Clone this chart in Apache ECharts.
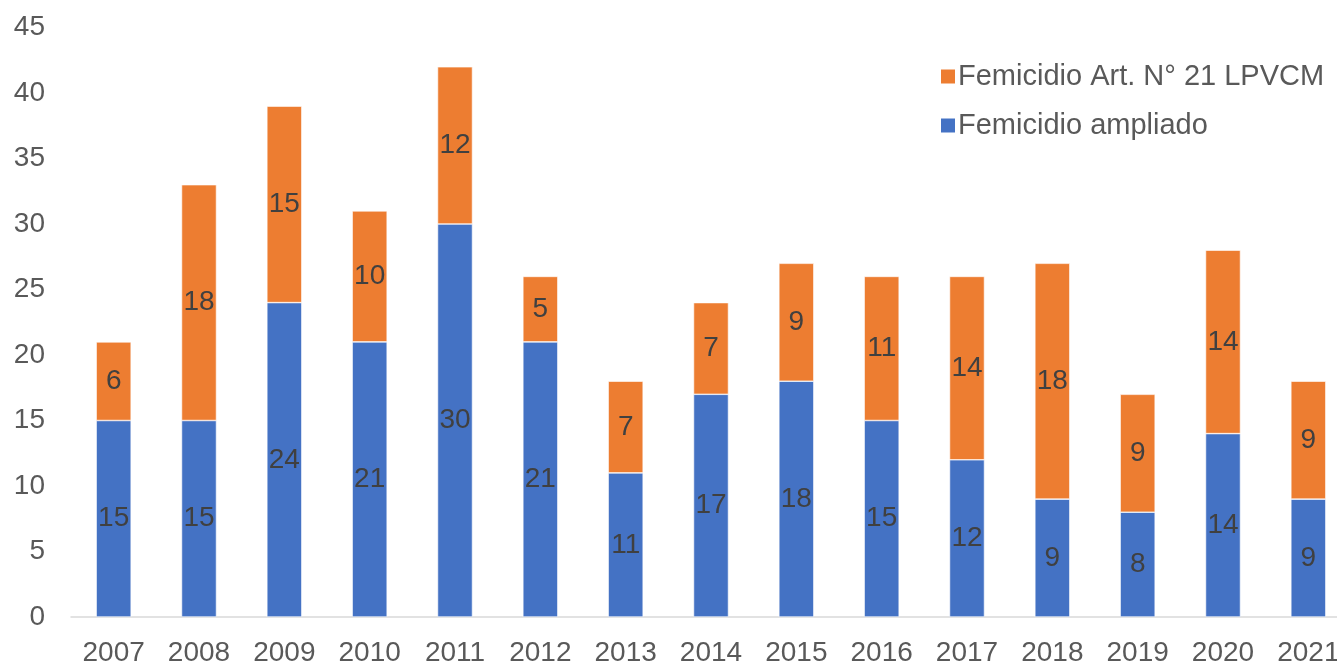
<!DOCTYPE html>
<html>
<head>
<meta charset="utf-8">
<script src="https://cdn.jsdelivr.net/npm/echarts@6/dist/echarts.min.js"></script>
<style>
  html, body { margin: 0; padding: 0; background: #fff; }
  #chart { width: 1337px; height: 664px; }
</style>
</head>
<body>
<div id="chart"></div>
<script>
var years = ["2007", "2008", "2009", "2010", "2011", "2012", "2013", "2014",
  "2015", "2016", "2017", "2018", "2019", "2020", "2021"];
var ampliado = [15, 15, 24, 21, 30, 21, 11, 17, 18, 15, 12, 9, 8, 14, 9];
var art21 = [6, 18, 15, 10, 12, 5, 7, 7, 9, 11, 14, 18, 9, 14, 9];

var nameAmpliado = "Femicidio ampliado";
var nameArt21 = "Femicidio Art. N° 21 LPVCM";

var font = "Liberation Sans, Arial, sans-serif";

var barLabel = {
  show: true,
  position: "inside",
  color: "#404040",
  fontSize: 28,
  fontFamily: font
};

var option = {
  animation: false,
  grid: {
    left: 71,
    top: 27.5,
    width: 1280,
    height: 589.5,
    outerBoundsMode: "none",
    containLabel: false
  },
  legend: {
    data: [nameArt21, nameAmpliado],
    orient: "vertical",
    left: 934,
    top: 57,
    itemWidth: 16,
    itemHeight: 16,
    itemGap: 20,
    icon: "rect",
    textStyle: {
      color: "#595959",
      fontSize: 29,
      fontFamily: font,
      padding: [0, 0, 0, -3]
    }
  },
  xAxis: {
    type: "category",
    data: years,
    axisLine: { lineStyle: { color: "#d9d9d9", width: 1.5 } },
    axisTick: { show: false },
    axisLabel: {
      color: "#595959",
      fontSize: 28,
      fontFamily: font,
      margin: 22,
      interval: 0
    }
  },
  yAxis: {
    type: "value",
    min: 0,
    max: 45,
    interval: 5,
    splitLine: { show: false },
    axisLine: { show: false },
    axisTick: { show: false },
    axisLabel: {
      color: "#595959",
      fontSize: 28,
      fontFamily: font,
      margin: 26
    }
  },
  series: [
    {
      name: nameAmpliado,
      type: "bar",
      stack: "total",
      data: ampliado,
      barWidth: 35,
      itemStyle: { color: "#4472C4", borderColor: "#ffffff", borderWidth: 0.6 },
      label: barLabel
    },
    {
      name: nameArt21,
      type: "bar",
      stack: "total",
      data: art21,
      barWidth: 35,
      itemStyle: { color: "#ED7D31", borderColor: "#ffffff", borderWidth: 0.6 },
      label: barLabel
    }
  ]
};

var myChart = echarts.init(document.getElementById("chart"));
myChart.setOption(option);
</script>
</body>
</html>
